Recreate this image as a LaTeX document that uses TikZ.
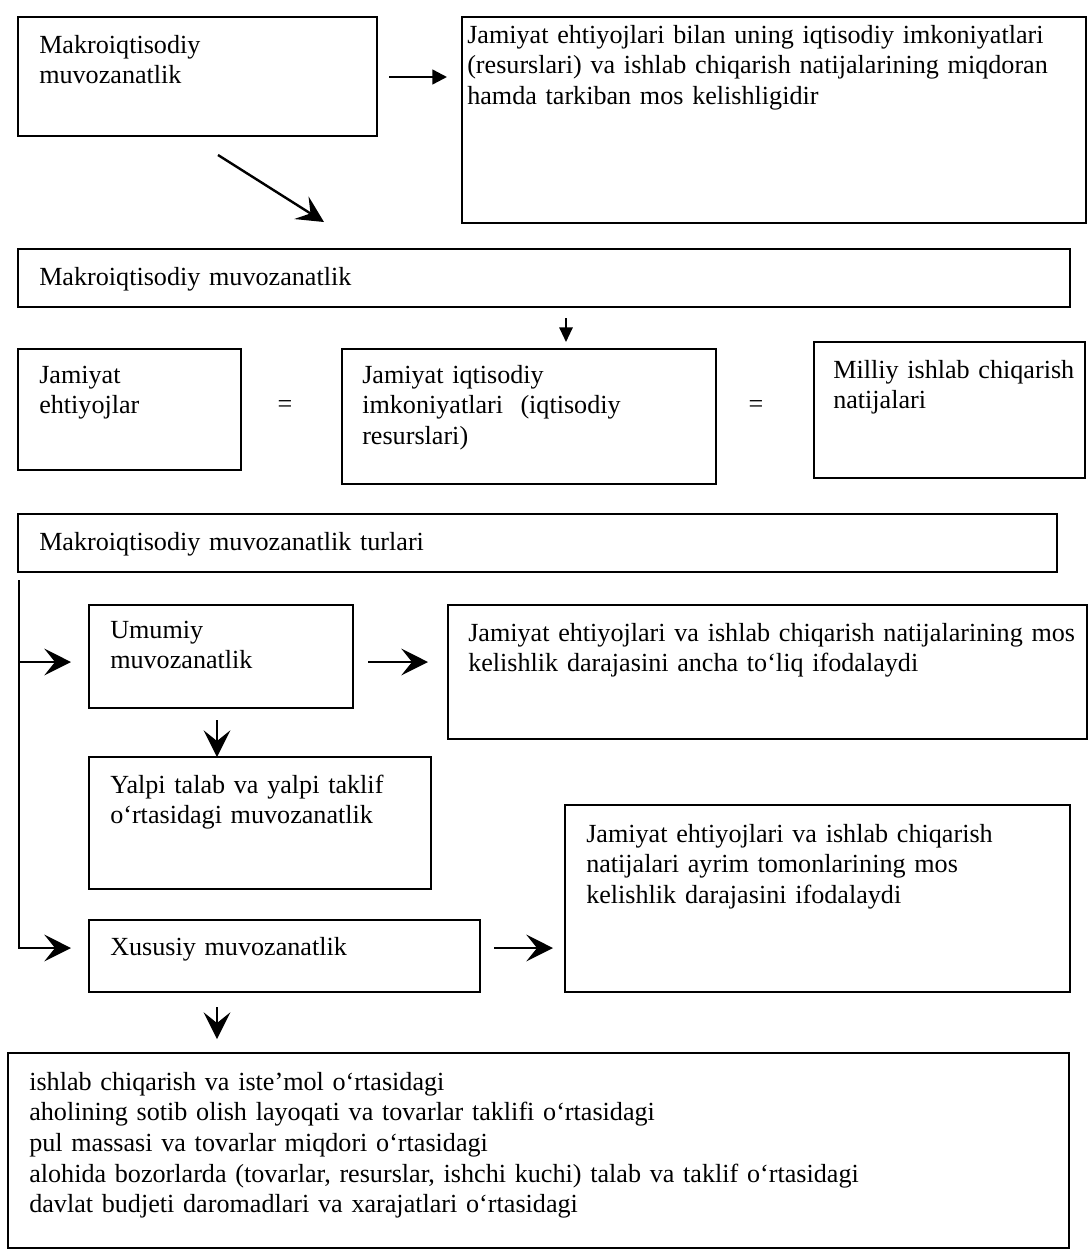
\documentclass[tikz,border=0pt]{standalone}
\usepackage{fontspec}
\setmainfont{Liberation Serif}
\usetikzlibrary{arrows.meta,fit,calc}
\begin{document}
\begin{tikzpicture}[x=0.75pt,y=-0.75pt,
  box/.style={draw, line width=1.8pt, inner sep=0pt, outer sep=0pt},
  txt/.style={anchor=base west, inner sep=0pt, text width=780pt, align=left, font=\fontsize{19.6pt}{23pt}\selectfont},
  eqs/.style={inner sep=0pt, font=\fontsize{19.6pt}{23pt}\selectfont},
  tri/.style={line width=1.8pt, -{Triangle[length=11pt,width=11pt]}},
  trismall/.style={line width=1.5pt, -{Triangle[length=11pt,width=10pt]}},
  barb/.style={line width=1.8pt, -{Stealth[length=20pt,width=20pt,inset=8pt]}}]
\useasboundingbox (0,0) rectangle (1089,1260);

% --- top row
\node[box, fit={(18,17) (377,136)}] (b1) {};
\node[txt] (t1) at (39,53) {Makroiqtisodiy\\muvozanatlik};
\node[box, fit={(462,17) (1086,223)}] (b2) {};
\node[txt] (t2) at (467,43) {Jamiyat ehtiyojlari bilan uning iqtisodiy imkoniyatlari\\(resurslari) va ishlab chiqarish natijalarining miqdoran\\hamda tarkiban mos kelishligidir};
\coordinate (a1s) at (389,77);
\coordinate (a1e) at (447,77);
\draw[tri] (a1s) -- (a1e);
\coordinate (d1) at (218,155);
\coordinate (d2) at (324,222);
\draw[barb] (d1) -- (d2);

% --- second band
\node[box, fit={(18,249) (1070,307)}] (b3) {};
\node[txt] (t3) at (39,285) {Makroiqtisodiy muvozanatlik};
\coordinate (a2s) at (566,318);
\coordinate (a2e) at (566,342);
\draw[trismall] (a2s) -- (a2e);

% --- equality row
\node[box, fit={(18,349) (241,470)}] (b4) {};
\node[txt] (t4) at (39,383) {Jamiyat\\ehtiyojlar};
\node[eqs] (eq1) at (285,407) {=};
\node[box, fit={(342,349) (716,484)}] (b5) {};
\node[txt] (t5) at (362,383) {Jamiyat iqtisodiy\\imkoniyatlari\ \ (iqtisodiy\\resurslari)};
\node[eqs] (eq2) at (756,407) {=};
\node[box, fit={(814,342) (1085,478)}] (b6) {};
\node[txt] (t6) at (833,378) {Milliy ishlab chiqarish\\natijalari};

% --- types
\node[box, fit={(18,514) (1057,572)}] (b7) {};
\node[txt] (t7) at (39,550) {Makroiqtisodiy muvozanatlik turlari};

\coordinate (vtop) at (19,580);
\coordinate (vmid) at (19,662);
\coordinate (u1) at (71,662);
\coordinate (x1) at (71,948);
\draw[barb] (vtop) |- (x1);
\draw[barb] (vmid) -- (u1);

\node[box, fit={(89,605) (353,708)}] (b8) {};
\node[txt] (t8) at (110,638) {Umumiy\\muvozanatlik};
\coordinate (a3s) at (368,662);
\coordinate (a3e) at (428,662);
\draw[barb] (a3s) -- (a3e);
\node[box, fit={(448,605) (1087,739)}] (b9) {};
\node[txt] (t9) at (468,641) {Jamiyat ehtiyojlari va ishlab chiqarish natijalarining mos\\kelishlik darajasini ancha to‘liq ifodalaydi};

\coordinate (a4s) at (217,720);
\coordinate (a4e) at (217,757);
\draw[barb] (a4s) -- (a4e);
\node[box, fit={(89,757) (431,889)}] (b10) {};
\node[txt] (t10) at (110,793) {Yalpi talab va yalpi taklif\\o‘rtasidagi muvozanatlik};

\node[box, fit={(565,805) (1070,992)}] (b12) {};
\node[txt] (t12) at (586,842) {Jamiyat ehtiyojlari va ishlab chiqarish\\natijalari ayrim tomonlarining mos\\kelishlik darajasini ifodalaydi};

\node[box, fit={(89,920) (480,992)}] (b11) {};
\node[txt] (t11) at (110,955) {Xususiy muvozanatlik};
\coordinate (a5s) at (494,948);
\coordinate (a5e) at (553,948);
\draw[barb] (a5s) -- (a5e);

\coordinate (a6s) at (217,1007);
\coordinate (a6e) at (217,1039);
\draw[barb] (a6s) -- (a6e);

\node[box, fit={(8,1053) (1069,1248)}] (b13) {};
\node[txt] (t13) at (29,1090) {ishlab chiqarish va iste’mol o‘rtasidagi\\aholining sotib olish layoqati va tovarlar taklifi o‘rtasidagi\\pul massasi va tovarlar miqdori o‘rtasidagi\\alohida bozorlarda (tovarlar, resurslar, ishchi kuchi) talab va taklif o‘rtasidagi\\davlat budjeti daromadlari va xarajatlari o‘rtasidagi};
\end{tikzpicture}
\end{document}
